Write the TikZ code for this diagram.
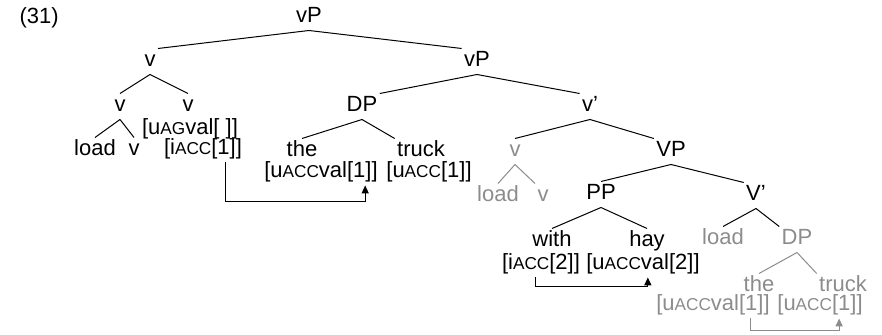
\documentclass[tikz,border=0pt]{standalone}
\usepackage{fontspec}
\setmainfont{Liberation Sans}
\usepackage{xcolor}
\usetikzlibrary{calc,arrows.meta}
\definecolor{ghost}{gray}{0.55}
\newcommand{\fc}[1]{{\fontsize{8.6}{9}\selectfont #1}}

\begin{document}
\begin{tikzpicture}[
  x=0.5pt, y=-0.5pt,
  font=\fontsize{11}{12}\selectfont,
  line width=0.5pt,
  cat/.style={anchor=base, text height=7.5pt, text depth=2pt, inner xsep=1pt, inner ysep=1.5pt},
  gone/.style={cat, text=ghost},
  agree/.style={-{Triangle[length=4pt,width=3.6pt]}, line width=0.5pt}
]
\useasboundingbox (0,0) rectangle (882,335);

% Example number
\node[cat, anchor=base west] (ex) at (17,24) {(31)};

% Top of the shell
\node[cat] (vP) at (309,23) {vP};
\node[cat] (v1) at (150,67) {v};
\node[cat] (vP2) at (477,67) {vP};

% Complex head
\node[cat] (v2l) at (120,112) {v};
\node[cat] (v2r) at (188,112) {v};
\node[cat] (uag) at (190,135) {[u\fc{AG}val[~]]};
\node[cat] (iaccA) at (203,155) {[i\fc{ACC}[1]]};
\node[cat] (load) at (95,156) {load};
\node[cat] (vlo) at (134,156) {v};

% Moved object
\node[cat] (DP) at (362,112) {DP};
\node[cat] (the) at (302,157) {the};
\node[cat] (truck) at (421,157) {truck};
\node[cat] (uvalA) at (321,178) {[u\fc{ACC}val[1]]};
\node[cat] (uaccA) at (429,178) {[u\fc{ACC}[1]]};

% v' and its (grey) head
\node[cat] (vbar) at (590,112) {v’};
\node[gone] (gv) at (515,157) {v};
\node[gone] (gload) at (498,202) {load};
\node[gone] (gvv) at (543,202) {v};
\node[cat] (VP) at (671,157) {VP};

% PP
\node[cat] (PP) at (601,200) {PP};
\node[cat] (with) at (552,247) {with};
\node[cat] (hay) at (647,247) {hay};
\node[cat] (iaccB) at (541,270) {[i\fc{ACC}[2]]};
\node[cat] (uvalB) at (643,270) {[u\fc{ACC}val[2]]};

% V' with grey copies
\node[cat] (Vbar) at (756,201) {V’};
\node[gone] (gload2) at (723,245) {load};
\node[gone] (gDP) at (797,245) {DP};
\node[gone] (gthe) at (759,292) {the};
\node[gone] (gtruck) at (843,292) {truck};
\node[gone] (guvalC) at (713,311) {[u\fc{ACC}val[1]]};
\node[gone] (guaccC) at (820,311) {[u\fc{ACC}[1]]};

% Branches
\draw (vP.south) -- (v1.north east);
\draw (vP.south) -- (vP2.north west);
\draw (v1.south) -- (v2l.north);
\draw (v1.south) -- (v2r.north);
\draw (v2l.south) -- (load.north);
\draw (v2l.south) -- (vlo.north);
\draw (vP2.south) -- (DP.north east);
\draw (vP2.south) -- (vbar.north west);
\draw (DP.south) -- (the.north);
\draw (DP.south) -- (truck.north west);
\draw (vbar.south) -- (gv.north);
\draw (vbar.south) -- (VP.north west);
\draw[ghost] (gv.south) -- (gload.north);
\draw[ghost] (gv.south) -- (gvv.north west);
\draw (VP.south) -- (PP.north);
\draw (VP.south) -- (Vbar.north west);
\draw (PP.south) -- (with.north);
\draw (PP.south) -- (hay.north);
\draw (Vbar.south) -- (gload2.north);
\draw (Vbar.south) -- (gDP.north west);
\draw[ghost] (gDP.south) -- (gthe.north);
\draw[ghost] (gDP.south) -- (gtruck.north west);

% Agreement arrows
\draw[agree] ($(iaccA.south east)+(-19,0)$) -- ++(0,39) -| ($(uvalA.south east)+(-15,0)$);
\draw[agree] ($(iaccB.south west)+(36,0)$) -- ++(0,9) -| ($(uvalB.south west)+(64,0)$);
\draw[agree, ghost] ($(guvalC.south east)+(-22,0)$) -- ++(0,12) -| ($(guaccC.south east)+(-26,0)$);

\end{tikzpicture}
\end{document}
